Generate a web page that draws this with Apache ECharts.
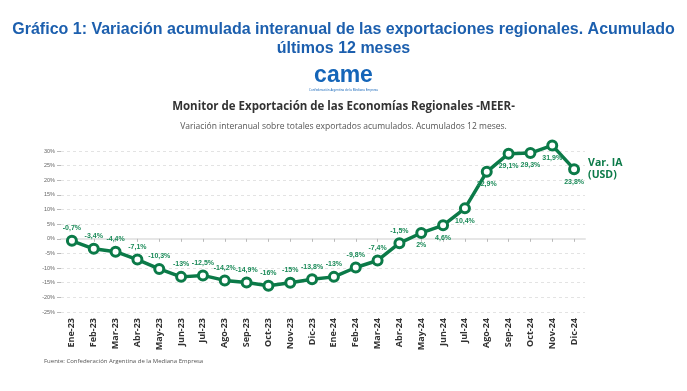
<!DOCTYPE html>
<html><head><meta charset="utf-8">
<script src="https://cdn.jsdelivr.net/npm/echarts@6/dist/echarts.min.js"></script>
<style>html,body{margin:0;padding:0;background:#fff}#c{width:687px;height:391px}</style>
</head><body><div id="c"></div>
<script>
const categories = ['Ene-23','Feb-23','Mar-23','Abr-23','May-23','Jun-23','Jul-23','Ago-23','Sep-23','Oct-23','Nov-23','Dic-23','Ene-24','Feb-24','Mar-24','Abr-24','May-24','Jun-24','Jul-24','Ago-24','Sep-24','Oct-24','Nov-24','Dic-24'];
const values = [-0.7,-3.4,-4.4,-7.1,-10.3,-13,-12.5,-14.2,-14.9,-16,-15,-13.8,-13,-9.8,-7.4,-1.5,2,4.6,10.4,22.9,29.1,29.3,31.9,23.8];
const labelBelow = [false,false,false,false,false,false,false,false,false,false,false,false,false,false,false,false,true,true,true,true,true,true,true,true];
const yTicks = [-25,-20,-15,-10,-5,0,5,10,15,20,25,30];

const green = '#0b7a48';
const chart = echarts.init(document.getElementById('c'));
chart.setOption({
  animation:false,
  backgroundColor:'#fff',
  grid:{left:61,right:102,top:151,bottom:79,containLabel:false},
  title:[
    {text:'Gráfico 1: Variación acumulada interanual de las exportaciones regionales. Acumulado\núltimos 12 meses',
     left:'center',top:15,
     textStyle:{fontFamily:'Liberation Sans, Arial',fontWeight:'bold',fontSize:16,color:'#1c5fae',lineHeight:19}},
    {text:'Monitor de Exportación de las Economías Regionales -MEER-',left:'center',top:96,
     textStyle:{fontFamily:'Open Sans, Noto Sans',fontWeight:'bold',fontSize:11.5,color:'#333'}},
    {text:'Variación interanual sobre totales exportados acumulados. Acumulados 12 meses.',left:'center',top:117,
     textStyle:{fontFamily:'Open Sans, Noto Sans',fontWeight:'normal',fontSize:8.5,color:'#555'}}
  ],
  graphic:[
    {type:'text',left:'center',top:64,style:{text:'came',font:'bold 23px Liberation Sans, Arial',fill:'#1565b8'}},
    {type:'text',left:'center',top:89,style:{text:'Confederación Argentina de la Mediana Empresa',font:'3px Noto Sans',fill:'#1565b8'}},
    {type:'text',left:44,top:358,style:{text:'Fuente: Confederación Argentina de la Mediana Empresa',font:'6px Open Sans, Noto Sans',fill:'#555'}}
  ],
  xAxis:{type:'category',data:categories,boundaryGap:true,
    axisLine:{show:true,lineStyle:{color:'#e6e6e6',width:2}},
    axisTick:{show:true,alignWithLabel:true,lineStyle:{color:'#bbb'},length:3},
    axisLabel:{rotate:90,fontSize:9,fontWeight:'bold',color:'#333',fontFamily:'Open Sans, Noto Sans',margin:6,interval:0}},
  yAxis:{type:'value',min:-25,max:30,interval:5,
    axisLine:{show:false},
    axisTick:{show:true,length:4,lineStyle:{color:'#bbb'}},
    splitLine:{show:true,lineStyle:{color:'#e3e3e3',type:[3,3]}},
    axisLabel:{fontSize:5.5,color:'#666',margin:6,formatter:v=>v+'%'}},
  series:[{
    type:'line',clip:false,data:values.map((v,i)=>({value:v,label:{position:labelBelow[i]?'bottom':'top'}})),
    symbol:'circle',symbolSize:9,
    lineStyle:{color:green,width:3.5},
    itemStyle:{color:'#fff',borderColor:green,borderWidth:3},
    label:{show:true,fontSize:7,fontWeight:'bold',color:'#1a8a58',distance:3,
      formatter:p=>String(p.value).replace('.',',')+'%'},
    endLabel:{show:true,formatter:'Var. IA\n(USD)',color:green,fontWeight:'bold',fontSize:10.5,lineHeight:12,distance:14,fontFamily:'Open Sans, Noto Sans'},
    z:5
  }]
});
</script></body></html>
